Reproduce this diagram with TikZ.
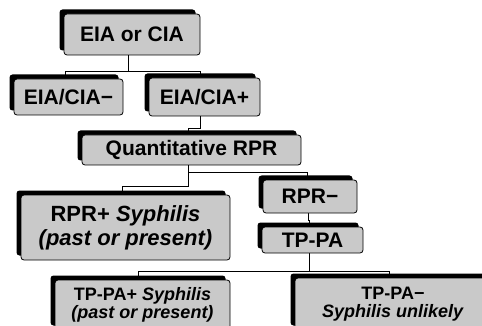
\documentclass[tikz,border=0pt]{standalone}
\usepackage{fontspec}
\setmainfont{Liberation Sans}
\usetikzlibrary{shadows,backgrounds}

\tikzset{
  stepbox/.style={draw=black, line width=0.8pt, fill=gray!42, rounded corners=3pt,
    align=center, inner sep=0pt,
    drop shadow={shadow xshift=-4.5pt, shadow yshift=4.5pt, fill=black, opacity=1}},
  bigtext/.style={font=\bfseries\fontsize{21}{23}\selectfont},
  midtext/.style={font=\bfseries\fontsize{22}{24}\selectfont},
  smalltext/.style={font=\bfseries\fontsize{18}{17.5}\selectfont},
  link/.style={line width=0.9pt}
}

\begin{document}
\begin{tikzpicture}[x=1pt,y=-1pt]
		\useasboundingbox (0,0) rectangle (482,326);
		\clip (0,0) rectangle (482,326);
		% boxes
		\node[stepbox, bigtext, minimum width=136pt, minimum height=41pt] (screen) at (132,34.5) {EIA or CIA};
		\node[stepbox, bigtext, minimum width=109pt, minimum height=36pt] (cianeg) at (68.5,97) {EIA/CIA−};
		\node[stepbox, bigtext, minimum width=111pt, minimum height=38pt] (ciapos) at (204.5,97) {EIA/CIA+};
		\node[stepbox, bigtext, minimum width=219pt, minimum height=30pt] (quant) at (191.5,150) {Quantitative RPR};
		\node[stepbox, midtext, minimum width=209pt, minimum height=65pt] (rprpos) at (125.5,227.5) {RPR+ \textit{Syphilis}\\\textit{(past or present)}};
		\node[stepbox, bigtext, minimum width=94pt, minimum height=33pt] (rprneg) at (310,196.5) {RPR−};
		\node[stepbox, bigtext, minimum width=101pt, minimum height=26pt] (tppa) at (312.5,240) {TP-PA};
		\node[stepbox, smalltext, minimum width=175pt, minimum height=50pt] (tppos) at (142.5,305) {TP-PA+ \textit{Syphilis}\\\textit{(past or present)}};
		\node[stepbox, smalltext, minimum width=196pt, minimum height=52pt] (tpneg) at (393,304) {TP-PA−\\\textit{Syphilis unlikely}};
		% connectors
		\begin{scope}[on background layer]
			\draw[link] ([xshift=-4pt]screen.south) -- ++(0,16) coordinate (j1) -| ([xshift=-3.5pt]cianeg.north);
			\draw[link] (j1) -| ([xshift=-4.5pt]ciapos.north);
			\draw[link] ([xshift=-4.5pt]ciapos.south) -- ++(0,12) -| ([xshift=-3.5pt]quant.north);
			\draw[link] ([xshift=-3.5pt]quant.south) -- ++(0,7) coordinate (j3) -| ([xshift=-3pt]rprneg.north);
			\draw[link] (j3) -- ++(0,14) -| ([xshift=-3.5pt]rprpos.north);
			\draw[link] ([xshift=-2pt]rprneg.south) -- ++(0,7) -| ([xshift=-3.5pt]tppa.north);
			\draw[link] ([xshift=-3.5pt]tppa.south) -- ++(0,18) coordinate (j5) -| ([xshift=-4.5pt]tppos.north);
			\draw[link] (j5) -| ([xshift=-4pt]tpneg.north);
		\end{scope}
	\end{tikzpicture}
\end{document}
